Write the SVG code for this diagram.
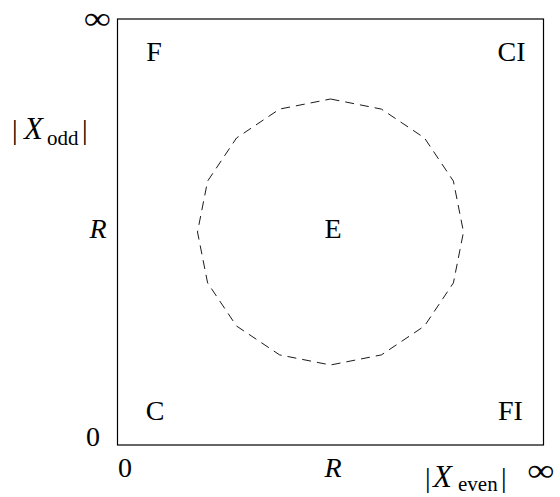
<svg xmlns="http://www.w3.org/2000/svg" width="560" height="497" viewBox="0 0 560 497">
<style>
text{font-family:"Liberation Serif","DejaVu Serif",serif;font-size:28px;fill:#000}
.c{text-anchor:middle}
.i{font-style:italic}
.s{font-size:21px}
.x{font-size:31px}
.inf{font-size:32px}
</style>
<rect width="560" height="497" fill="#fff"/>
<g id="box"><rect x="117.5" y="19" width="426" height="426" fill="none" stroke="#000" stroke-width="1.2"/></g>
<g id="connectors">
<polygon id="circle" fill="none" stroke="#000" stroke-width="0.9" stroke-dasharray="9,6" points="330.5,99 381.4,109.1 424.5,138 453.4,181.1 463.5,232 453.4,282.9 424.5,326 381.4,354.9 330.5,365 279.6,354.9 236.5,326 207.6,282.9 197.5,232 207.6,181.1 236.5,138 279.6,109.1"/>
</g>
<g id="F"><text class="c" x="154" y="61">F</text></g>
<g id="CI"><text class="c" x="511.5" y="61">CI</text></g>
<g id="C"><text class="c" x="155" y="420">C</text></g>
<g id="FI"><text class="c" x="510.5" y="420">FI</text></g>
<g id="E"><text class="c" x="333" y="238">E</text></g>
<g id="axes">
<text class="c inf" transform="translate(97.5,29) scale(1.2,1)" x="0" y="0">∞</text>
<text y="139"><tspan x="12">|</tspan><tspan class="i x" x="24">X</tspan><tspan class="s" x="47" y="145">odd</tspan><tspan x="82" y="139">|</tspan></text>
<text class="c i" x="98" y="238">R</text>
<text class="c" x="93" y="446">0</text>
<text class="c" x="125" y="477">0</text>
<text class="c i" x="333" y="477">R</text>
<text y="487"><tspan x="425">|</tspan><tspan class="i x" x="433">X</tspan><tspan class="s" x="458" y="491">even</tspan><tspan x="501" y="487">|</tspan></text>
<text class="c inf" transform="translate(541,481) scale(1.2,1)" x="0" y="0">∞</text>
</g>
</svg>
